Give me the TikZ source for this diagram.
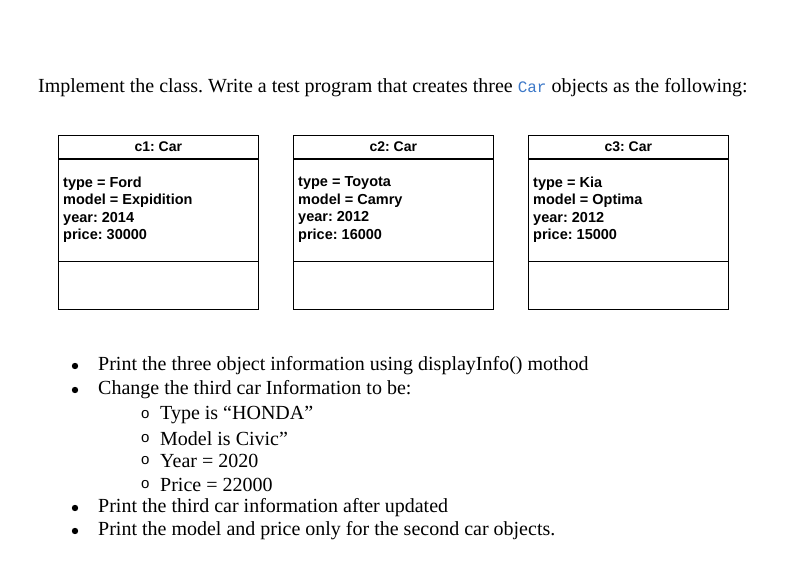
\documentclass[tikz,border=0pt]{standalone}
\usepackage{fontspec}
\setmainfont{Liberation Serif}
\setsansfont{Liberation Sans}
\setmonofont{Liberation Mono}
\frenchspacing
\definecolor{codeblue}{RGB}{60,120,200}
\tikzset{objbox/.style={draw,semithick,minimum width=200pt,inner sep=0pt},
  attr/.style={anchor=north west,align=left,font=\sffamily\bfseries\fontsize{14.5}{17.5}\selectfont,inner sep=0pt},
  line/.style={anchor=west,font=\fontsize{20}{22}\selectfont,inner sep=0pt}}
\begin{document}
\begin{tikzpicture}[x=1pt,y=-1pt]
\useasboundingbox (0,0) rectangle (810,585);
\node[line] (title) at (38,88) {Implement the class. Write a test program that creates three {\ttfamily\color{codeblue}\fontsize{16}{18}\selectfont Car} objects as the following:};

\foreach \n/\x/\t/\m/\y/\p in {1/58/Ford/Expidition/2014/30000,2/293/Toyota/Camry/2012/16000,3/528/Kia/Optima/2012/15000}{
  \node[objbox,minimum height=23pt,anchor=north west] (head\n) at (\x,135) {\sffamily\bfseries\fontsize{14}{16}\selectfont c\n: Car};
  \node[objbox,minimum height=102pt,anchor=north] (body\n) at (head\n.south) {};
  \node[objbox,minimum height=48pt,anchor=north] (ops\n) at (body\n.south) {};
  \node[attr] (attr\n) at ([xshift=5pt,yshift=-18pt]body\n.north west) {type = \t\\model = \m\\year: \y\\price: \p};
}

\foreach \i/\y/\s in {1/366/Print the three object information using displayInfo() mothod,
  2/390/Change the third car Information to be:,
  3/508/Print the third car information after updated,
  4/531/Print the model and price only for the second car objects.}{
  \node[line] (b\i) at (98,\y) {\s};
  \fill (75,\y) circle (3.2pt);
}
\foreach \i/\y/\s in {1/415/Type is “HONDA”,2/439/Model is Civic”,3/461/Year = 2020,4/485/Price = 22000}{
  \node[line] (s\i) at (160,\y) {\s};
  \node[line,font=\sffamily\fontsize{15}{17}\selectfont] (o\i) at (141,\y) {o};
}
\end{tikzpicture}
\end{document}
